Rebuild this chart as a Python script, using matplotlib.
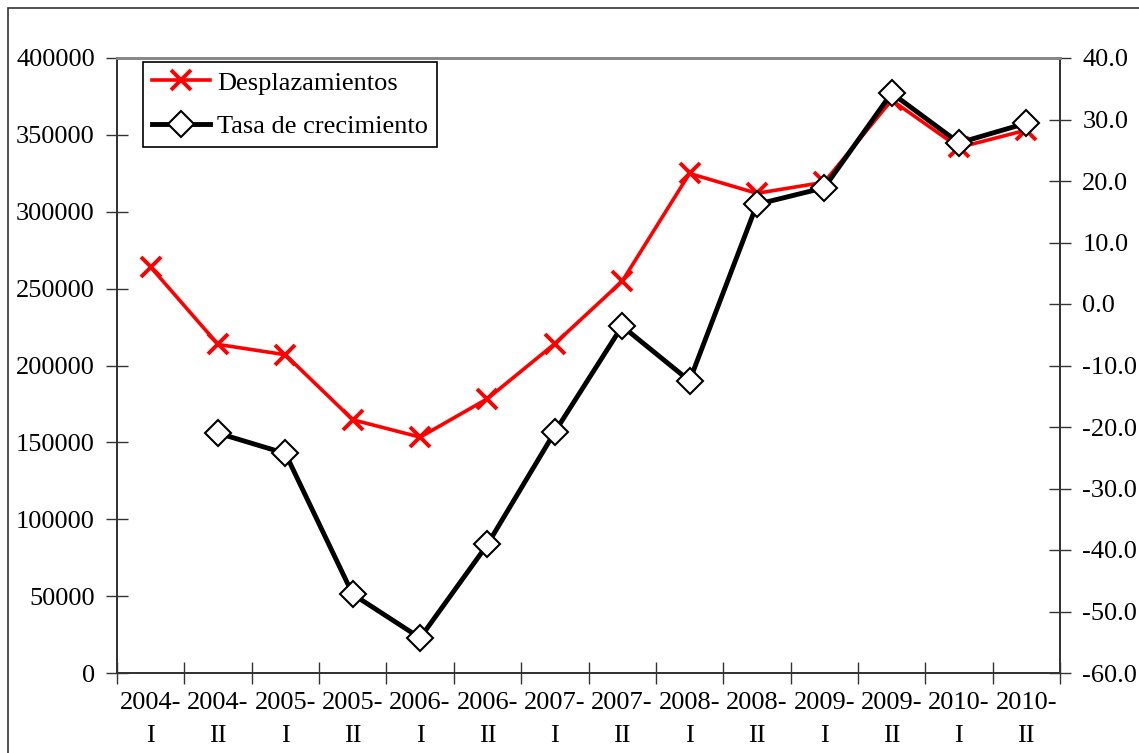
import matplotlib
matplotlib.use('Agg')
import matplotlib.pyplot as plt
from matplotlib import patches
import numpy as np

plt.rcParams.update({'font.family': 'Liberation Serif', 'font.size': 19})

# datos
periodos = ['2004-\nI', '2004-\nII', '2005-\nI', '2005-\nII', '2006-\nI', '2006-\nII', '2007-\nI',
            '2007-\nII', '2008-\nI', '2008-\nII', '2009-\nI', '2009-\nII', '2010-\nI', '2010-\nII']
desplazamientos = [264000, 213700, 207000, 164700, 153400, 178400, 214200,
                   254800, 324900, 312000, 319200, 372600, 341800, 353100]
tasa = [np.nan, -21.0, -24.3, -47.2, -54.3, -39.1, -20.8,
        -3.6, -12.5, 16.2, 18.9, 34.3, 26.2, 29.4]

fig = plt.figure(figsize = (11.39, 7.53), dpi = 100)
ax = fig.add_axes([117 / 1139, 1 - 673 / 753, 943 / 1139, 615 / 753])
ax2 = ax.twinx()

# marco exterior
fig.patches.append(patches.Rectangle((8 / 1139, -0.1), 1.2, 1.1 - 8 / 753, transform = fig.transFigure,
                                     fill = False, edgecolor = '#333333', linewidth = 1.2))

x = np.arange(len(periodos)) + 0.5
l1, = ax.plot(x, desplazamientos, color = 'red', lw = 2.6, marker = 'x', ms = 15, mew = 2.8,
              label = 'Desplazamientos')
l2, = ax2.plot(x, tasa, color = 'black', lw = 3.5, marker = 'D', ms = 13, mfc = 'white', mec = 'black',
               mew = 1.5, label = 'Tasa de crecimiento')

ax.set_xlim(0, len(periodos))
ax.set_ylim(0, 400000)
ax2.set_ylim(-60, 40)
ax.set_yticks(np.arange(0, 400001, 50000))
ax2.set_yticks(np.arange(-60, 41, 10))
ax2.set_yticklabels(['%.1f' % v for v in np.arange(-60, 41, 10)])

ax.set_xticks(np.arange(0, len(periodos) + 1))
ax.set_xticklabels([])
ax.set_xticks(x, minor = True)
ax.set_xticklabels(periodos, minor = True, linespacing = 1.6)
ax.tick_params(axis = 'x', which = 'minor', length = 0, pad = 14)
ax.tick_params(axis = 'x', which = 'major', direction = 'inout', length = 16, width = 1, color = '#333333')
ax.tick_params(axis = 'y', direction = 'inout', length = 16, width = 1, color = '#333333', pad = 8)
ax2.tick_params(axis = 'y', direction = 'inout', length = 16, width = 1, color = '#333333', pad = 8)

for a in (ax, ax2):
    a.spines['top'].set_color('#888888')
    a.spines['top'].set_linewidth(2)
    for s in ('left', 'right', 'bottom'):
        a.spines[s].set_color('#333333')
        a.spines[s].set_linewidth(1.3)

leg = ax2.legend([l1, l2], [l1.get_label(), l2.get_label()], loc = 'upper left',
                 bbox_to_anchor = (26 / 943, 1 - 4 / 615), borderaxespad = 0, fancybox = False,
                 framealpha = 1, edgecolor = 'black', handlelength = 2.2, handletextpad = 0.25,
                 labelspacing = 0.75, borderpad = 0.35, fontsize = 19)
leg.get_frame().set_linewidth(1.2)

fig.savefig('out.png', dpi = 100)
